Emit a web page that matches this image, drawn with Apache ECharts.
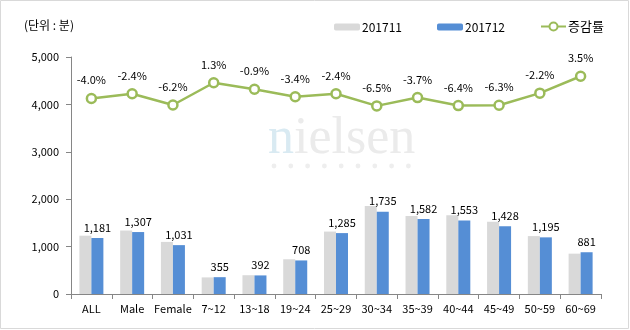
<!DOCTYPE html>
<html>
<head>
<meta charset="utf-8">
<script src="https://cdn.jsdelivr.net/npm/echarts@6/dist/echarts.min.js"></script>
<style>
html,body{margin:0;padding:0;background:#fff;}
#c{width:630px;height:330px;}
</style>
</head>
<body>
<div id="c"></div>
<script>
var categories = ['ALL','Male','Female','7~12','13~18','19~24','25~29','30~34','35~39','40~44','45~49','50~59','60~69'];
var nov = [1230,1339,1099,350,396,733,1317,1856,1643,1659,1524,1222,851];
var dec = [1181,1307,1031,355,392,708,1285,1735,1582,1553,1428,1195,881];
var rate = [-4.0,-2.4,-6.2,1.3,-0.9,-3.4,-2.4,-6.5,-3.7,-6.4,-6.3,-2.2,3.5];
var yTicks = [0,1000,2000,3000,4000,5000];

var FONT = "'Noto Sans CJK KR', 'Noto Sans', sans-serif";
var chart = echarts.init(document.getElementById('c'), null, {renderer:'canvas'});
var dotEls = [];
for (var i = 0; i < 9; i++) {
  dotEls.push({type:'circle', shape:{cx:274 + i*16.8, cy:166, r:2.4}, style:{fill:'#eeeeee'}, z:-1, silent:true});
}
chart.setOption({
  animation:false,
  textStyle:{fontFamily:FONT},
  graphic:[
    {type:'rect', shape:{x:0.5,y:0.5,width:628,height:328}, style:{fill:'none', stroke:'#d9d9d9', lineWidth:1}, z:-2, silent:true},
    {type:'text', left:24, top:19, style:{text:'(단위 : 분)', font:"12px " + FONT, fill:'#000'}},
    {type:'text', left:268, top:113, z:-1, silent:true, style:{
      text:'{a|n}{b|ielsen}',
      rich:{a:{fontFamily:"'Liberation Serif', serif", fontSize:52, fill:'#d9eaf2'}, b:{fontFamily:"'Liberation Serif', serif", fontSize:52, fill:'#ebebeb'}}
    }}
  ].concat(dotEls),
  legend:[
    {data:['201711'], left:329, top:16, itemWidth:26, itemHeight:7, itemGap:0, textStyle:{fontSize:12, color:'#000', fontFamily:FONT, padding:[0,0,0,-3]}},
    {data:['201712'], left:432, top:16, itemWidth:26, itemHeight:7, itemGap:0, textStyle:{fontSize:12, color:'#000', fontFamily:FONT, padding:[0,0,0,-3]}},
    {data:['증감률'], left:535, top:15, itemWidth:25, itemHeight:10, itemGap:0, textStyle:{fontSize:13, color:'#000', fontFamily:FONT, padding:[0,0,0,-3]}}
  ],
  grid:{left:71, right:29, top:57, bottom:36},
  xAxis:{
    type:'category', data:categories,
    axisLine:{lineStyle:{color:'#868686', width:1}},
    axisTick:{show:true, alignWithLabel:false, length:5, lineStyle:{color:'#868686'}},
    axisLabel:{color:'#000', fontSize:11, margin:9, interval:0}
  },
  yAxis:[
    {type:'value', min:yTicks[0], max:yTicks[yTicks.length-1], interval:1000,
     axisLine:{show:true, lineStyle:{color:'#868686'}},
     axisTick:{show:true, length:5, inside:false, lineStyle:{color:'#868686'}},
     splitLine:{show:false},
     axisLabel:{color:'#000', fontSize:11, margin:12, formatter:function(v){return v.toLocaleString('en-US');}}
    },
    {type:'value', min:-70, max:10, show:false, splitLine:{show:false}}
  ],
  series:[
    {name:'201711', type:'bar', data:nov, barWidth:12, barGap:'0%', itemStyle:{color:'#d9d9d9'}},
    {name:'201712', type:'bar', data:dec, barWidth:12, barGap:'0%', itemStyle:{color:'#558ed5'},
     label:{show:true, position:'top', distance:5, color:'#000', fontSize:11, formatter:function(p){return p.value.toLocaleString('en-US');}}},
    {name:'증감률', type:'line', yAxisIndex:1, data:rate, symbol:'circle', symbolSize:9,
     lineStyle:{color:'#9bbb59', width:2.5},
     itemStyle:{color:'#ffffff', borderColor:'#9bbb59', borderWidth:2.5},
     label:{show:true, position:'top', distance:7, color:'#000', fontSize:11, formatter:function(p){return p.value.toFixed(1)+'%';}}
    }
  ]
});
</script>
</body>
</html>
